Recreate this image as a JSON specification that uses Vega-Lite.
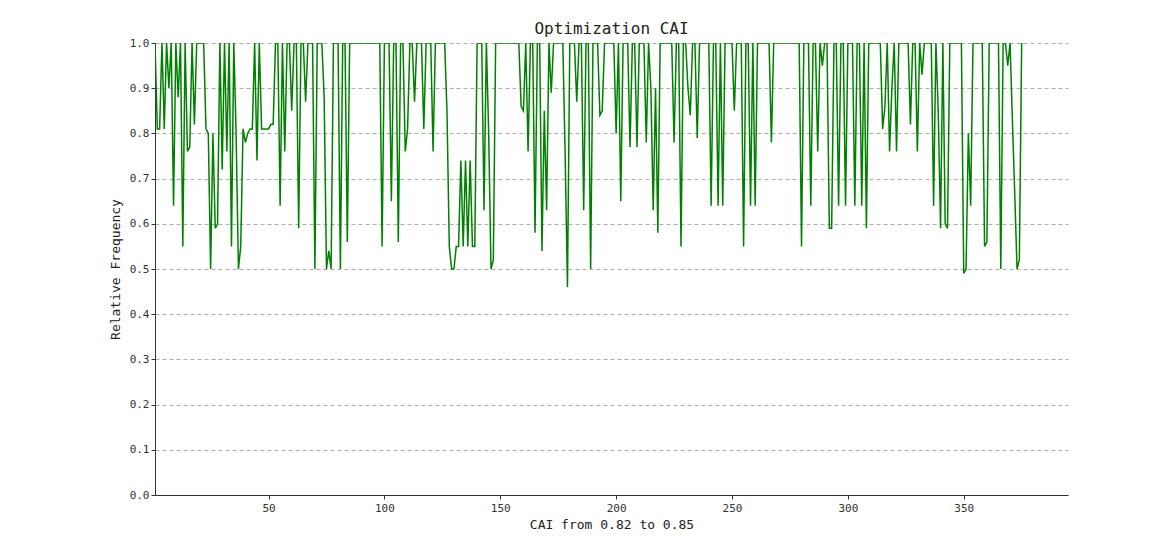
{
  "$schema": "https://vega.github.io/schema/vega-lite/v6.json",
  "autosize": {"type": "none"},
  "width": 913,
  "height": 452,
  "padding": {"left": 155, "top": 43, "right": 98, "bottom": 54},
  "background": "white",
  "config": {
    "view": {"stroke": null},
    "font": "DejaVu Sans Mono",
    "axis": {
      "labelFont": "DejaVu Sans Mono",
      "titleFont": "DejaVu Sans Mono",
      "labelFontSize": 11,
      "titleFontSize": 13,
      "titleFontWeight": "normal",
      "labelColor": "#333333",
      "titleColor": "#222222",
      "domainColor": "#333333",
      "tickColor": "#333333",
      "tickSize": 4
    }
  },
  "title": {
    "text": "Optimization CAI",
    "font": "DejaVu Sans Mono",
    "fontSize": 16,
    "fontWeight": "normal",
    "color": "#222222",
    "anchor": "middle",
    "offset": 0
  },
  "data": {
    "values": [
      {"x":1,"y":1.0},{"x":2,"y":0.81},{"x":3,"y":0.81},{"x":4,"y":1.0},{"x":5,"y":0.81},{"x":6,"y":1.0},{"x":7,"y":0.9},{"x":8,"y":1.0},{"x":9,"y":0.64},{"x":10,"y":1.0},
      {"x":11,"y":0.88},{"x":12,"y":1.0},{"x":13,"y":0.55},{"x":14,"y":1.0},{"x":15,"y":0.76},{"x":16,"y":0.77},{"x":17,"y":1.0},{"x":18,"y":0.82},{"x":19,"y":1.0},{"x":20,"y":1.0},
      {"x":21,"y":1.0},{"x":22,"y":1.0},{"x":23,"y":0.81},{"x":24,"y":0.8},{"x":25,"y":0.5},{"x":26,"y":0.8},{"x":27,"y":0.59},{"x":28,"y":0.6},{"x":29,"y":1.0},{"x":30,"y":0.72},
      {"x":31,"y":1.0},{"x":32,"y":0.76},{"x":33,"y":1.0},{"x":34,"y":0.55},{"x":35,"y":1.0},{"x":36,"y":0.8},{"x":37,"y":0.5},{"x":38,"y":0.55},{"x":39,"y":0.81},{"x":40,"y":0.78},
      {"x":41,"y":0.8},{"x":42,"y":0.81},{"x":43,"y":0.81},{"x":44,"y":1.0},{"x":45,"y":0.74},{"x":46,"y":1.0},{"x":47,"y":0.81},{"x":48,"y":0.81},{"x":49,"y":0.81},{"x":50,"y":0.81},
      {"x":51,"y":0.82},{"x":52,"y":0.82},{"x":53,"y":1.0},{"x":54,"y":1.0},{"x":55,"y":0.64},{"x":56,"y":1.0},{"x":57,"y":0.76},{"x":58,"y":1.0},{"x":59,"y":1.0},{"x":60,"y":0.85},
      {"x":61,"y":1.0},{"x":62,"y":1.0},{"x":63,"y":0.59},{"x":64,"y":1.0},{"x":65,"y":1.0},{"x":66,"y":0.87},{"x":67,"y":1.0},{"x":68,"y":1.0},{"x":69,"y":1.0},{"x":70,"y":0.5},
      {"x":71,"y":1.0},{"x":72,"y":1.0},{"x":73,"y":1.0},{"x":74,"y":0.88},{"x":75,"y":0.5},{"x":76,"y":0.54},{"x":77,"y":0.5},{"x":78,"y":1.0},{"x":79,"y":1.0},{"x":80,"y":1.0},
      {"x":81,"y":0.5},{"x":82,"y":1.0},{"x":83,"y":1.0},{"x":84,"y":0.56},{"x":85,"y":1.0},{"x":86,"y":1.0},{"x":87,"y":1.0},{"x":88,"y":1.0},{"x":89,"y":1.0},{"x":90,"y":1.0},
      {"x":91,"y":1.0},{"x":92,"y":1.0},{"x":93,"y":1.0},{"x":94,"y":1.0},{"x":95,"y":1.0},{"x":96,"y":1.0},{"x":97,"y":1.0},{"x":98,"y":1.0},{"x":99,"y":0.55},{"x":100,"y":1.0},
      {"x":101,"y":1.0},{"x":102,"y":1.0},{"x":103,"y":0.65},{"x":104,"y":1.0},{"x":105,"y":1.0},{"x":106,"y":0.56},{"x":107,"y":1.0},{"x":108,"y":1.0},{"x":109,"y":0.76},{"x":110,"y":0.81},
      {"x":111,"y":1.0},{"x":112,"y":1.0},{"x":113,"y":0.87},{"x":114,"y":1.0},{"x":115,"y":1.0},{"x":116,"y":1.0},{"x":117,"y":0.81},{"x":118,"y":1.0},{"x":119,"y":1.0},{"x":120,"y":1.0},
      {"x":121,"y":0.76},{"x":122,"y":1.0},{"x":123,"y":1.0},{"x":124,"y":1.0},{"x":125,"y":1.0},{"x":126,"y":1.0},{"x":127,"y":0.85},{"x":128,"y":0.55},{"x":129,"y":0.5},{"x":130,"y":0.5},
      {"x":131,"y":0.55},{"x":132,"y":0.55},{"x":133,"y":0.74},{"x":134,"y":0.55},{"x":135,"y":0.74},{"x":136,"y":0.55},{"x":137,"y":0.74},{"x":138,"y":0.55},{"x":139,"y":0.55},{"x":140,"y":1.0},
      {"x":141,"y":1.0},{"x":142,"y":1.0},{"x":143,"y":0.63},{"x":144,"y":1.0},{"x":145,"y":0.8},{"x":146,"y":0.5},{"x":147,"y":0.52},{"x":148,"y":1.0},{"x":149,"y":1.0},{"x":150,"y":1.0},
      {"x":151,"y":1.0},{"x":152,"y":1.0},{"x":153,"y":1.0},{"x":154,"y":1.0},{"x":155,"y":1.0},{"x":156,"y":1.0},{"x":157,"y":1.0},{"x":158,"y":1.0},{"x":159,"y":0.86},{"x":160,"y":0.85},
      {"x":161,"y":1.0},{"x":162,"y":0.76},{"x":163,"y":1.0},{"x":164,"y":1.0},{"x":165,"y":0.58},{"x":166,"y":1.0},{"x":167,"y":1.0},{"x":168,"y":0.54},{"x":169,"y":0.85},{"x":170,"y":0.63},
      {"x":171,"y":1.0},{"x":172,"y":0.89},{"x":173,"y":1.0},{"x":174,"y":1.0},{"x":175,"y":1.0},{"x":176,"y":1.0},{"x":177,"y":1.0},{"x":178,"y":0.75},{"x":179,"y":0.46},{"x":180,"y":1.0},
      {"x":181,"y":1.0},{"x":182,"y":1.0},{"x":183,"y":0.87},{"x":184,"y":1.0},{"x":185,"y":1.0},{"x":186,"y":0.63},{"x":187,"y":1.0},{"x":188,"y":1.0},{"x":189,"y":0.5},{"x":190,"y":1.0},
      {"x":191,"y":1.0},{"x":192,"y":1.0},{"x":193,"y":0.84},{"x":194,"y":0.85},{"x":195,"y":1.0},{"x":196,"y":1.0},{"x":197,"y":1.0},{"x":198,"y":1.0},{"x":199,"y":1.0},{"x":200,"y":0.8},
      {"x":201,"y":1.0},{"x":202,"y":0.65},{"x":203,"y":1.0},{"x":204,"y":1.0},{"x":205,"y":1.0},{"x":206,"y":0.77},{"x":207,"y":1.0},{"x":208,"y":1.0},{"x":209,"y":0.77},{"x":210,"y":1.0},
      {"x":211,"y":1.0},{"x":212,"y":1.0},{"x":213,"y":0.78},{"x":214,"y":1.0},{"x":215,"y":0.9},{"x":216,"y":0.63},{"x":217,"y":0.9},{"x":218,"y":0.58},{"x":219,"y":1.0},{"x":220,"y":1.0},
      {"x":221,"y":1.0},{"x":222,"y":1.0},{"x":223,"y":1.0},{"x":224,"y":1.0},{"x":225,"y":0.78},{"x":226,"y":1.0},{"x":227,"y":1.0},{"x":228,"y":0.55},{"x":229,"y":1.0},{"x":230,"y":1.0},
      {"x":231,"y":0.9},{"x":232,"y":0.84},{"x":233,"y":1.0},{"x":234,"y":1.0},{"x":235,"y":0.79},{"x":236,"y":1.0},{"x":237,"y":1.0},{"x":238,"y":1.0},{"x":239,"y":1.0},{"x":240,"y":1.0},
      {"x":241,"y":0.64},{"x":242,"y":1.0},{"x":243,"y":1.0},{"x":244,"y":0.64},{"x":245,"y":1.0},{"x":246,"y":0.64},{"x":247,"y":1.0},{"x":248,"y":1.0},{"x":249,"y":1.0},{"x":250,"y":1.0},
      {"x":251,"y":0.85},{"x":252,"y":1.0},{"x":253,"y":1.0},{"x":254,"y":1.0},{"x":255,"y":0.55},{"x":256,"y":1.0},{"x":257,"y":1.0},{"x":258,"y":0.64},{"x":259,"y":1.0},{"x":260,"y":0.64},
      {"x":261,"y":1.0},{"x":262,"y":1.0},{"x":263,"y":1.0},{"x":264,"y":1.0},{"x":265,"y":1.0},{"x":266,"y":1.0},{"x":267,"y":0.78},{"x":268,"y":1.0},{"x":269,"y":1.0},{"x":270,"y":1.0},
      {"x":271,"y":1.0},{"x":272,"y":1.0},{"x":273,"y":1.0},{"x":274,"y":1.0},{"x":275,"y":1.0},{"x":276,"y":1.0},{"x":277,"y":1.0},{"x":278,"y":1.0},{"x":279,"y":1.0},{"x":280,"y":0.55},
      {"x":281,"y":1.0},{"x":282,"y":1.0},{"x":283,"y":1.0},{"x":284,"y":0.64},{"x":285,"y":1.0},{"x":286,"y":1.0},{"x":287,"y":0.76},{"x":288,"y":1.0},{"x":289,"y":0.95},{"x":290,"y":1.0},
      {"x":291,"y":1.0},{"x":292,"y":0.59},{"x":293,"y":0.59},{"x":294,"y":1.0},{"x":295,"y":1.0},{"x":296,"y":0.64},{"x":297,"y":1.0},{"x":298,"y":1.0},{"x":299,"y":0.64},{"x":300,"y":1.0},
      {"x":301,"y":1.0},{"x":302,"y":1.0},{"x":303,"y":0.64},{"x":304,"y":1.0},{"x":305,"y":1.0},{"x":306,"y":0.64},{"x":307,"y":1.0},{"x":308,"y":0.59},{"x":309,"y":1.0},{"x":310,"y":1.0},
      {"x":311,"y":1.0},{"x":312,"y":1.0},{"x":313,"y":1.0},{"x":314,"y":1.0},{"x":315,"y":0.81},{"x":316,"y":0.86},{"x":317,"y":1.0},{"x":318,"y":0.76},{"x":319,"y":0.9},{"x":320,"y":1.0},
      {"x":321,"y":0.76},{"x":322,"y":1.0},{"x":323,"y":1.0},{"x":324,"y":1.0},{"x":325,"y":1.0},{"x":326,"y":1.0},{"x":327,"y":0.82},{"x":328,"y":1.0},{"x":329,"y":1.0},{"x":330,"y":0.76},
      {"x":331,"y":1.0},{"x":332,"y":0.93},{"x":333,"y":1.0},{"x":334,"y":1.0},{"x":335,"y":1.0},{"x":336,"y":1.0},{"x":337,"y":0.64},{"x":338,"y":1.0},{"x":339,"y":0.85},{"x":340,"y":0.59},
      {"x":341,"y":1.0},{"x":342,"y":0.6},{"x":343,"y":0.59},{"x":344,"y":1.0},{"x":345,"y":1.0},{"x":346,"y":1.0},{"x":347,"y":1.0},{"x":348,"y":1.0},{"x":349,"y":1.0},{"x":350,"y":0.49},
      {"x":351,"y":0.5},{"x":352,"y":0.8},{"x":353,"y":0.64},{"x":354,"y":1.0},{"x":355,"y":1.0},{"x":356,"y":1.0},{"x":357,"y":1.0},{"x":358,"y":1.0},{"x":359,"y":0.55},{"x":360,"y":0.56},
      {"x":361,"y":1.0},{"x":362,"y":1.0},{"x":363,"y":1.0},{"x":364,"y":1.0},{"x":365,"y":1.0},{"x":366,"y":0.5},{"x":367,"y":1.0},{"x":368,"y":1.0},{"x":369,"y":0.95},{"x":370,"y":1.0},
      {"x":371,"y":0.83},{"x":372,"y":0.67},{"x":373,"y":0.5},{"x":374,"y":0.52},{"x":375,"y":1.0}
    ]
  },
  "mark": {"type": "line", "color": "#008000", "strokeWidth": 1.5, "clip": true},
  "encoding": {
    "x": {
      "field": "x",
      "type": "quantitative",
      "scale": {"domain": [1, 395], "nice": false, "zero": false},
      "axis": {
        "values": [50, 100, 150, 200, 250, 300, 350],
        "grid": false,
        "labelPadding": 3,
        "title": "CAI from 0.82 to 0.85",
        "titlePadding": 5
      }
    },
    "y": {
      "field": "y",
      "type": "quantitative",
      "scale": {"domain": [0, 1], "nice": false},
      "axis": {
        "values": [0, 0.1, 0.2, 0.3, 0.4, 0.5, 0.6, 0.7, 0.8, 0.9, 1.0],
        "format": ".1f",
        "grid": true,
        "gridColor": "#555555",
        "gridOpacity": 0.6,
        "gridDash": [4, 3],
        "gridWidth": 0.8,
        "labelPadding": 2,
        "title": "Relative Frequency",
        "titlePadding": 7
      }
    }
  }
}
